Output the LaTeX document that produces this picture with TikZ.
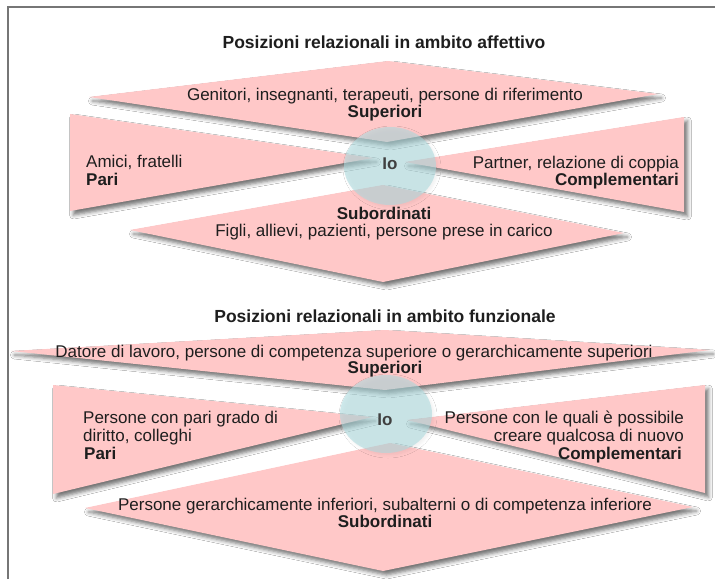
\documentclass[tikz,border=0pt]{standalone}
\usepackage{fontspec}
\setmainfont{Liberation Sans}
\usetikzlibrary{shadows.blur,shapes.geometric}
\definecolor{pinkfill}{HTML}{FFC8C8}
\definecolor{iofill}{RGB}{172,218,222}
\definecolor{txt}{HTML}{1E1E1E}
\definecolor{framec}{HTML}{767676}
\begin{document}
\begin{tikzpicture}[x=1pt,y=-1pt,
  sh/.style={blur shadow={shadow xshift=3.5pt, shadow yshift=-4pt, shadow blur radius=4pt, shadow opacity=55}},
  wedge/.style={fill=pinkfill, sh},
  iobox/.style={ellipse, fill=iofill, fill opacity=0.58, minimum width=92pt, minimum height=78pt, inner sep=0pt,
    blur shadow={shadow xshift=2pt, shadow yshift=-2pt, shadow blur radius=3pt, shadow opacity=10}},
  lbl/.style={font=\fontsize{17}{19}\selectfont, text=txt, inner sep=0pt},
  blbl/.style={font=\fontsize{17}{19}\selectfont\bfseries, text=txt, inner sep=0pt},
  ttl/.style={font=\fontsize{17.5}{19}\selectfont\bfseries, text=txt, inner sep=0pt},
  iotxt/.style={font=\fontsize{17}{19}\selectfont\bfseries, text=black!75, inner sep=0pt},
]
\useasboundingbox (0,0) rectangle (715,579);
\fill[white] (0,0) rectangle (715,579);
\draw[framec, line width=2.2pt] (8,579) -- (8,7) -- (715,7);

% ---------- section 1 ----------
\node[ttl, anchor=base] (t1) at (384,48) {Posizioni relazionali in ambito affettivo};
\fill[wedge] (388,61) -- (658,94) -- (387,142) -- (89,97) -- cycle;
\fill[wedge] (70,114) -- (373,158) -- (70,211) -- cycle;
\fill[wedge] (684,117) -- (405,162) -- (684,212) -- cycle;
\fill[wedge] (383,185) -- (624,233) -- (383,282) -- (130,230) -- cycle;
\node[iobox] (io1) at (390,166) {};
\node[iotxt, anchor=base] (io1t) at (390,169) {Io};
\node[lbl, anchor=base] (s1a) at (385,100) {Genitori, insegnanti, terapeuti, persone di riferimento};
\node[blbl, anchor=base] (s1b) at (385,117) {Superiori};
\node[lbl, anchor=base west] (p1a) at (86,167) {Amici, fratelli};
\node[blbl, anchor=base west] (p1b) at (86,185) {Pari};
\node[lbl, anchor=base east] (c1a) at (679,168) {Partner, relazione di coppia};
\node[blbl, anchor=base east] (c1b) at (679,185) {Complementari};
\node[blbl, anchor=base] (u1a) at (384,219) {Subordinati};
\node[lbl, anchor=base] (u1b) at (384,236) {Figli, allievi, pazienti, persone prese in carico};

% ---------- section 2 ----------
\node[ttl, anchor=base] (t2) at (385,322) {Posizioni relazionali in ambito funzionale};
\fill[wedge] (385,330) -- (710,350) -- (385,390) -- (11,351) -- cycle;
\fill[wedge] (53,385) -- (372,417) -- (53,494) -- cycle;
\fill[wedge] (705,385) -- (407,420) -- (705,493) -- cycle;
\fill[wedge] (390,443) -- (693,507) -- (383,571) -- (85,508) -- cycle;
\node[iobox] (io2) at (386,414) {};
\node[iotxt, anchor=base] (io2t) at (385,425) {Io};
\node[lbl, anchor=base] (s2a) at (354,357) {Datore di lavoro, persone di competenza superiore o gerarchicamente superiori};
\node[blbl, anchor=base] (s2b) at (385,373) {Superiori};
\node[lbl, anchor=base west] (p2a) at (83,423) {Persone con pari grado di};
\node[lbl, anchor=base west] (p2b) at (83,441) {diritto, colleghi};
\node[blbl, anchor=base west] (p2c) at (84,459) {Pari};
\node[lbl, anchor=base east] (c2a) at (684,423) {Persone con le quali è possibile};
\node[lbl, anchor=base east] (c2b) at (684,441) {creare qualcosa di nuovo};
\node[blbl, anchor=base east] (c2c) at (682,459) {Complementari};
\node[lbl, anchor=base] (u2a) at (385,510) {Persone gerarchicamente inferiori, subalterni o di competenza inferiore};
\node[blbl, anchor=base] (u2b) at (385,527) {Subordinati};
\end{tikzpicture}
\end{document}
